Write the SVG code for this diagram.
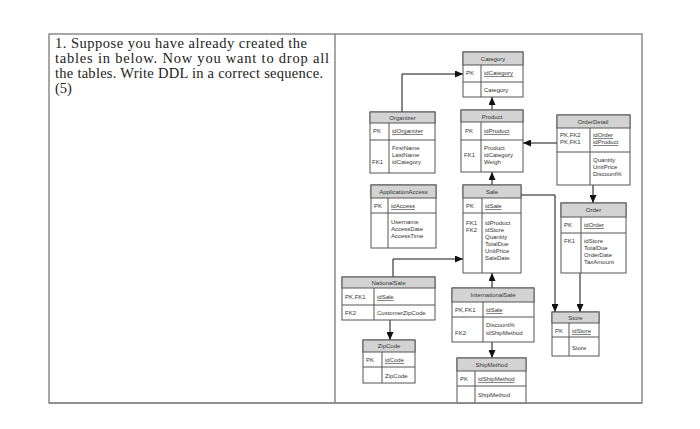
<svg xmlns="http://www.w3.org/2000/svg" width="700" height="429" viewBox="0 0 700 429">
<style>
.bg{fill:#fff}
.frame{fill:none;stroke:#8a8a8a;stroke-width:1.5}
.q{font-family:"Liberation Serif",serif;font-size:14.5px;fill:#222}
.box{fill:#fff;stroke:#555;stroke-width:1}
.hd{fill:#d3d3d3;stroke:#555;stroke-width:1}
.ln{stroke:#555;stroke-width:1}
.t{font-family:"Liberation Sans",Arial,sans-serif;font-size:6px;fill:#333}
.h{font-family:"Liberation Sans",Arial,sans-serif;font-size:6px;fill:#333;text-anchor:middle}
.u{text-decoration:underline}
.c{fill:none;stroke:#111;stroke-width:1;marker-end:url(#ah)}
</style>
<defs>
<marker id="ah" markerUnits="userSpaceOnUse" markerWidth="8" markerHeight="7" refX="8" refY="3.5" orient="auto">
<path d="M0,0 L8,3.5 L0,7 z" fill="#111"/>
</marker>
</defs>
<rect class="bg" x="0" y="0" width="700" height="429"/>
<rect class="frame" x="49" y="34" width="593" height="369"/>
<line x1="335" y1="34" x2="335" y2="403" stroke="#8a8a8a" stroke-width="1.5"/>
<g id="question">
<text class="q" x="55" y="48" textLength="252">1. Suppose you have already created the</text>
<text class="q" x="55" y="63" textLength="274">tables in below. Now you want to drop all</text>
<text class="q" x="55" y="78" textLength="268">the tables. Write DDL in a correct sequence.</text>
<text class="q" x="55" y="93">(5)</text>
</g>
<g id="connectors">
<path class="c" d="M402 112 V74 H463"/>
<path class="c" d="M492 110 V97"/>
<path class="c" d="M557 143 H523"/>
<path class="c" d="M593 185 V203"/>
<path class="c" d="M492 185 V172"/>
<path class="c" d="M521 195 H555 V312"/>
<path class="c" d="M580 273 V312"/>
<path class="c" d="M393 277 V259 H463"/>
<path class="c" d="M492 288 V273"/>
<path class="c" d="M492 342 V358"/>
<path class="c" d="M390 320 V340"/>
</g>
<g id="Category">
<rect class="box" x="463" y="52" width="60" height="45"/>
<rect class="hd" x="463" y="52" width="60" height="13"/>
<line class="ln" x1="463" y1="82" x2="523" y2="82"/>
<line class="ln" x1="481" y1="65" x2="481" y2="97"/>
<text class="h" x="493" y="61">Category</text>
<text class="t" x="466" y="75">PK</text>
<text class="t u" x="484" y="75">idCategory</text>
<text class="t" x="484" y="92">Category</text>
</g>
<g id="Organizer">
<rect class="box" x="370" y="112" width="65" height="61"/>
<rect class="hd" x="370" y="112" width="65" height="11"/>
<line class="ln" x1="370" y1="140" x2="435" y2="140"/>
<line class="ln" x1="389" y1="123" x2="389" y2="173"/>
<text class="h" x="402.5" y="120">Organizer</text>
<text class="t" x="373" y="133">PK</text>
<text class="t u" x="392" y="133">idOrganizer</text>
<text class="t" x="392" y="150">FirstName</text>
<text class="t" x="392" y="157">LastName</text>
<text class="t" x="392" y="164">idCategory</text>
<text class="t" x="372" y="164">FK1</text>
</g>
<g id="Product">
<rect class="box" x="461" y="110" width="62" height="62"/>
<rect class="hd" x="461" y="110" width="62" height="12"/>
<line class="ln" x1="461" y1="140" x2="523" y2="140"/>
<line class="ln" x1="481" y1="122" x2="481" y2="172"/>
<text class="h" x="492" y="119">Product</text>
<text class="t" x="465" y="133">PK</text>
<text class="t u" x="484" y="133">idProduct</text>
<text class="t" x="484" y="150">Product</text>
<text class="t" x="484" y="157">idCategory</text>
<text class="t" x="484" y="164">Weigh</text>
<text class="t" x="464" y="157">FK1</text>
</g>
<g id="OrderDetail">
<rect class="box" x="557" y="115" width="73" height="70"/>
<rect class="hd" x="557" y="115" width="73" height="13"/>
<line class="ln" x1="557" y1="152" x2="630" y2="152"/>
<line class="ln" x1="590" y1="128" x2="590" y2="185"/>
<text class="h" x="593" y="124">OrderDetail</text>
<text class="t" x="560" y="137">PK,FK2</text>
<text class="t" x="560" y="144">PK,FK1</text>
<text class="t u" x="593" y="137">idOrder</text>
<text class="t u" x="593" y="144">idProduct</text>
<text class="t" x="593" y="162">Quantity</text>
<text class="t" x="593" y="169">UnitPrice</text>
<text class="t" x="593" y="176">Discount%</text>
</g>
<g id="ApplicationAccess">
<rect class="box" x="371" y="185" width="65" height="63"/>
<rect class="hd" x="371" y="185" width="65" height="13"/>
<line class="ln" x1="371" y1="213" x2="436" y2="213"/>
<line class="ln" x1="388" y1="198" x2="388" y2="248"/>
<text class="h" x="403.5" y="194">ApplicationAccess</text>
<text class="t" x="374" y="208">PK</text>
<text class="t u" x="391" y="208">idAccess</text>
<text class="t" x="391" y="224">Username</text>
<text class="t" x="391" y="231">AccessDate</text>
<text class="t" x="391" y="238">AccessTime</text>
</g>
<g id="Sale">
<rect class="box" x="463" y="185" width="58" height="88"/>
<rect class="hd" x="463" y="185" width="58" height="13"/>
<line class="ln" x1="463" y1="213" x2="521" y2="213"/>
<line class="ln" x1="482" y1="198" x2="482" y2="273"/>
<text class="h" x="492" y="194">Sale</text>
<text class="t" x="466" y="208">PK</text>
<text class="t u" x="485" y="208">idSale</text>
<text class="t" x="466" y="225">FK1</text>
<text class="t" x="466" y="232">FK2</text>
<text class="t" x="485" y="225">idProduct</text>
<text class="t" x="485" y="232">idStore</text>
<text class="t" x="485" y="239">Quantity</text>
<text class="t" x="485" y="246">TotalDue</text>
<text class="t" x="485" y="253">UnitPrice</text>
<text class="t" x="485" y="260">SaleDate</text>
</g>
<g id="Order">
<rect class="box" x="561" y="203" width="65" height="70"/>
<rect class="hd" x="561" y="203" width="65" height="14"/>
<line class="ln" x1="561" y1="233" x2="626" y2="233"/>
<line class="ln" x1="581" y1="217" x2="581" y2="273"/>
<text class="h" x="593.5" y="212">Order</text>
<text class="t" x="564" y="227">PK</text>
<text class="t u" x="584" y="227">idOrder</text>
<text class="t" x="564" y="243">FK1</text>
<text class="t" x="584" y="243">idStore</text>
<text class="t" x="584" y="250">TotalDue</text>
<text class="t" x="584" y="257">OrderDate</text>
<text class="t" x="584" y="264">TaxAmount</text>
</g>
<g id="Store">
<rect class="box" x="552" y="312" width="47" height="44"/>
<rect class="hd" x="552" y="312" width="47" height="11"/>
<line class="ln" x1="552" y1="337" x2="599" y2="337"/>
<line class="ln" x1="569" y1="323" x2="569" y2="356"/>
<text class="h" x="575.5" y="320">Store</text>
<text class="t" x="555" y="333">PK</text>
<text class="t u" x="572" y="333">idStore</text>
<text class="t" x="572" y="350">Store</text>
</g>
<g id="NationalSale">
<rect class="box" x="342" y="277" width="93" height="43"/>
<rect class="hd" x="342" y="277" width="93" height="11"/>
<line class="ln" x1="342" y1="305" x2="435" y2="305"/>
<line class="ln" x1="374" y1="288" x2="374" y2="320"/>
<text class="h" x="388.5" y="285">NationalSale</text>
<text class="t" x="345" y="299">PK,FK1</text>
<text class="t u" x="377" y="299">idSale</text>
<text class="t" x="345" y="315">FK2</text>
<text class="t" x="377" y="315">CustomerZipCode</text>
</g>
<g id="InternationalSale">
<rect class="box" x="452" y="288" width="82" height="54"/>
<rect class="hd" x="452" y="288" width="82" height="14"/>
<line class="ln" x1="452" y1="317" x2="534" y2="317"/>
<line class="ln" x1="483" y1="302" x2="483" y2="342"/>
<text class="h" x="493" y="297">InternationalSale</text>
<text class="t" x="455" y="312">PK,FK1</text>
<text class="t u" x="486" y="312">idSale</text>
<text class="t" x="486" y="327">Discount%</text>
<text class="t" x="486" y="335">idShipMethod</text>
<text class="t" x="455" y="335">FK2</text>
</g>
<g id="ZipCode">
<rect class="box" x="363" y="340" width="52" height="43"/>
<rect class="hd" x="363" y="340" width="52" height="12"/>
<line class="ln" x1="363" y1="367" x2="415" y2="367"/>
<line class="ln" x1="382" y1="352" x2="382" y2="383"/>
<text class="h" x="389" y="348">ZipCode</text>
<text class="t" x="366" y="362">PK</text>
<text class="t u" x="385" y="362">idCode</text>
<text class="t" x="385" y="378">ZipCode</text>
</g>
<g id="ShipMethod">
<rect class="box" x="457" y="358" width="69" height="45"/>
<rect class="hd" x="457" y="358" width="69" height="13"/>
<line class="ln" x1="457" y1="386" x2="526" y2="386"/>
<line class="ln" x1="475" y1="371" x2="475" y2="403"/>
<text class="h" x="491.5" y="367">ShipMethod</text>
<text class="t" x="460" y="381">PK</text>
<text class="t u" x="478" y="381">idShipMethod</text>
<text class="t" x="478" y="397">ShipMethod</text>
</g>
<line x1="49" y1="403" x2="642" y2="403" stroke="#8a8a8a" stroke-width="1.5"/>
</svg>
